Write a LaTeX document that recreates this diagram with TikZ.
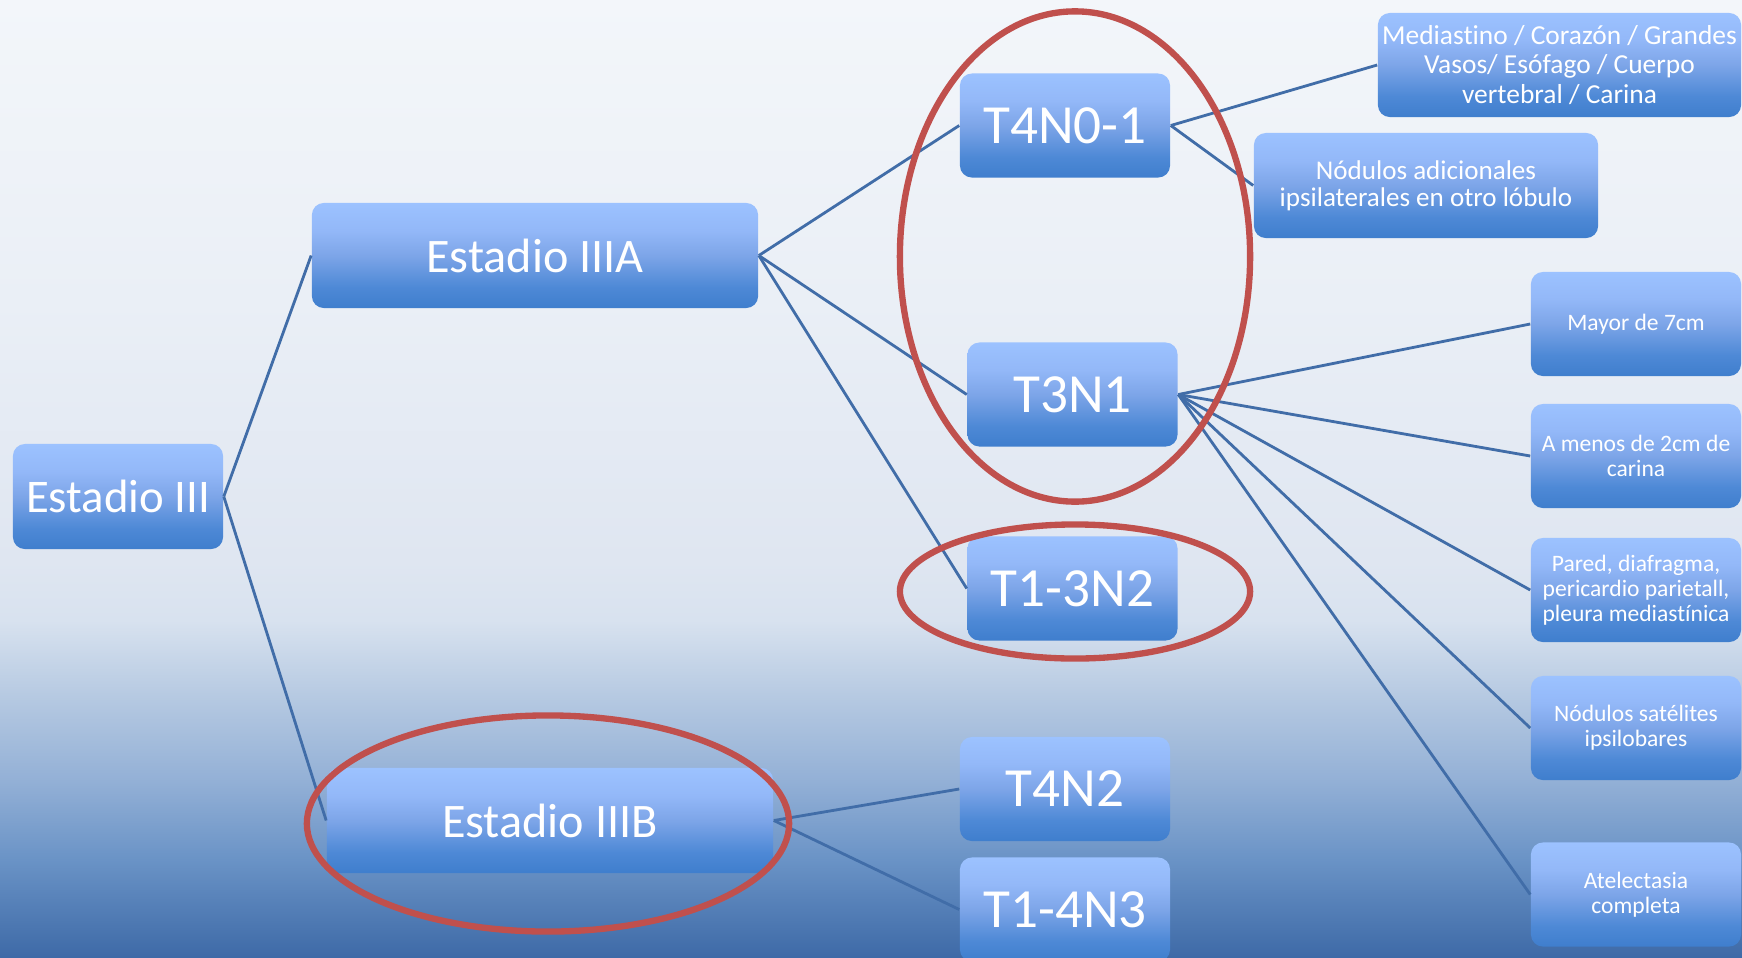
\documentclass[tikz,border=0pt]{standalone}
\usepackage{fontspec}
\setmainfont[Ligatures={NoCommon}]{Carlito}
\definecolor{bg0}{HTML}{F3F6FA}
\definecolor{bg1}{HTML}{EAEFF6}
\definecolor{bg2}{HTML}{DFE6F1}
\definecolor{bg3}{HTML}{D8E2EF}
\definecolor{bg4}{HTML}{B4C8E1}
\definecolor{bg5}{HTML}{93B0D6}
\definecolor{bg6}{HTML}{6A93C6}
\definecolor{bg7}{HTML}{3E6AA7}
\definecolor{bxA}{HTML}{9CC2FF}
\definecolor{bxB}{HTML}{93B8F8}
\definecolor{bxC}{HTML}{7DA5E8}
\definecolor{bxD}{HTML}{4E89D6}
\definecolor{bxE}{HTML}{3F7ECD}
\definecolor{lineblue}{HTML}{416DA8}
\definecolor{ringred}{HTML}{C0504D}
\pgfdeclareverticalshading{bgsh}{100bp}{color(0bp)=(bg7); color(25bp)=(bg7); color(30.1bp)=(bg6); color(34.2bp)=(bg5); color(38.4bp)=(bg4); color(42.6bp)=(bg3); color(45.7bp)=(bg2); color(59.3bp)=(bg1); color(75bp)=(bg0); color(100bp)=(bg0)}
\pgfdeclareverticalshading{boxsh}{100bp}{color(0bp)=(bxE); color(25bp)=(bxE); color(35bp)=(bxD); color(50bp)=(bxC); color(62bp)=(bxB); color(75bp)=(bxA); color(100bp)=(bxA)}
\begin{document}
\begin{tikzpicture}[x=0.01cm,y=-0.01cm,
  box/.style={shade, shading=boxsh, rounded corners=3.4pt, text=white, align=center, inner sep=0pt},
  sm/.style={box, minimum width=2.10cm, minimum height=1.04cm},
  bigtxt/.style={font=\fontsize{13.3pt}{15pt}\selectfont},
  midtxt/.style={font=\fontsize{13.7pt}{15pt}\selectfont},
  ttxt/.style={font=\fontsize{15.7pt}{17pt}\selectfont},
  leaf/.style={font=\fontsize{6.7pt}{7.1pt}\selectfont},
  conn/.style={draw=lineblue, line width=0.8pt},
  redring/.style={draw=ringred, line width=1.8pt}]
\shade[shading=bgsh] (0,0) rectangle (1742,957);
\useasboundingbox (0,0) rectangle (1742,957);

% nodes
\node[box, bigtxt, minimum width=2.10cm, minimum height=1.05cm] (e3) at (118,496.5) {Estadio III};
\node[box, midtxt, minimum width=4.46cm, minimum height=1.05cm] (e3a) at (535,255.5) {Estadio IIIA};
\node[box, midtxt, minimum width=4.46cm, minimum height=1.05cm] (e3b) at (550,820.5) {Estadio IIIB};
\node[sm, ttxt] (t401) at (1065,125.5) {T4N0-1};
\node[sm, ttxt] (t3n1) at (1072.5,394.5) {T3N1};
\node[sm, ttxt] (t13n2) at (1072.5,588.5) {T1-3N2};
\node[sm, ttxt] (t4n2) at (1065,789) {T4N2};
\node[sm, ttxt] (t14n3) at (1065,909.5) {T1-4N3};
\node[box, font=\fontsize{7.8pt}{8.3pt}\selectfont, minimum width=3.63cm, minimum height=1.04cm] (med) at (1559.5,65) {Mediastino / Corazón / Grandes\\Vasos/ Esófago / Cuerpo\\vertebral / Carina};
\node[box, font=\fontsize{7.7pt}{7.7pt}\selectfont, minimum width=3.44cm, minimum height=1.05cm] (nad) at (1426,185.5) {Nódulos adicionales\\ipsilaterales en otro lóbulo};
\node[sm, leaf] (may) at (1636,324) {Mayor de 7cm};
\node[sm, leaf] (amen) at (1636,456) {A menos de 2cm de\\carina};
\node[sm, leaf] (par) at (1636,590) {Pared, diafragma,\\pericardio parietall,\\pleura mediastínica};
\node[sm, leaf] (sat) at (1636,728) {Nódulos satélites\\ipsilobares};
\node[sm, leaf] (ate) at (1636,894.5) {Atelectasia\\completa};

% connectors
\draw[conn] (e3.east) -- (e3a.west);
\draw[conn] (e3.east) -- (e3b.west);
\draw[conn] (e3a.east) -- (t401.west);
\draw[conn] (e3a.east) -- (t3n1.west);
\draw[conn] (e3a.east) -- (t13n2.west);
\draw[conn] (t401.east) -- (med.west);
\draw[conn] (t401.east) -- (nad.west);
\draw[conn] (t3n1.east) -- (may.west);
\draw[conn] (t3n1.east) -- (amen.west);
\draw[conn] (t3n1.east) -- (par.west);
\draw[conn] (t3n1.east) -- (sat.west);
\draw[conn] (t3n1.east) -- (ate.west);
\draw[conn] (e3b.east) -- (t4n2.west);
\draw[conn] (e3b.east) -- (t14n3.west);

% red rings
\draw[redring] (1075,256.5) ellipse [x radius=1.75cm, y radius=2.45cm];
\draw[redring] (1075,591.5) ellipse [x radius=1.75cm, y radius=0.67cm];
\draw[redring] (548,823.5) ellipse [x radius=2.41cm, y radius=1.08cm];
\end{tikzpicture}
\end{document}
